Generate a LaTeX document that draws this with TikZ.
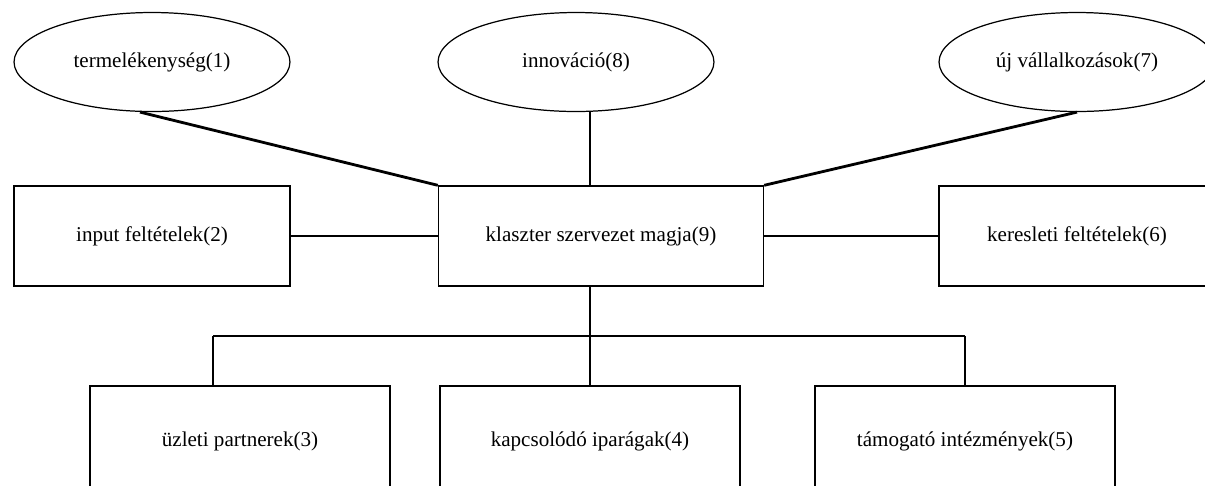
\documentclass[tikz,border=0pt]{standalone}
\usepackage{fontspec}
\setmainfont{Liberation Serif}
\usetikzlibrary{shapes.geometric,positioning,calc}

\begin{document}
\begin{tikzpicture}[
        x=0.02cm, y=-0.02cm,
        font=\fontsize{12}{14}\selectfont,
        factor/.style = {draw, line width=0.7pt, ellipse, minimum width=5.52cm, minimum height=1.98cm,
                         inner sep=0pt},
        part/.style   = {draw, line width=0.8pt, rectangle, minimum width=5.52cm, minimum height=2cm,
                         inner sep=0pt},
        sub/.style    = {draw, line width=0.8pt, rectangle, minimum width=6cm, minimum height=2.2cm,
                         inner sep=0pt},
        link/.style   = {line width=1.6pt},
        tie/.style    = {line width=0.7pt}
    ]
        \path[use as bounding box, clip] (0,0) rectangle (1205,485);

        % ---- top row ----
        \node[factor] (e1) at (152,62)  {termelékenység(1)};
        \node[factor] (e8) at (576,62)  {innováció(8)};
        \node[factor] (e7) at (1077,62) {új vállalkozások(7)};

        % ---- middle row ----
        \node[part] (k2) at (152,236)   {input feltételek(2)};
        \node[part, minimum width=6.5cm] (k9) at (601,236) {klaszter szervezet magja(9)};
        \node[part] (k6) at (1077,236)  {keresleti feltételek(6)};

        % ---- bottom row ----
        \node[sub] (k3) at (240,441) {üzleti partnerek(3)};
        \node[sub] (k4) at (590,441) {kapcsolódó iparágak(4)};
        \node[sub] (k5) at (965,441) {támogató intézmények(5)};

        % ---- links ----
        \draw[link] ($(e1.south)+(-12,0)$) -- (k9.north west);
        \draw[tie]  (k4.north |- e8.south) -- (k4.north |- k9.north);
        \draw[link] (e7.south) -- (k9.north east);
        \draw[link] (k2.east) -- (k9.west);
        \draw[link] (k9.east) -- (k6.west);

        \coordinate (bl) at (213,336);
        \coordinate (br) at (965,336);
        \draw[link] (k4.north |- k9.south) -- (k4.north);
        \draw[link] (bl) -- (br);
        \draw[link] (bl) -- (bl |- k3.north);
        \draw[link] (br) -- (br |- k5.north);
    \end{tikzpicture}
\end{document}
